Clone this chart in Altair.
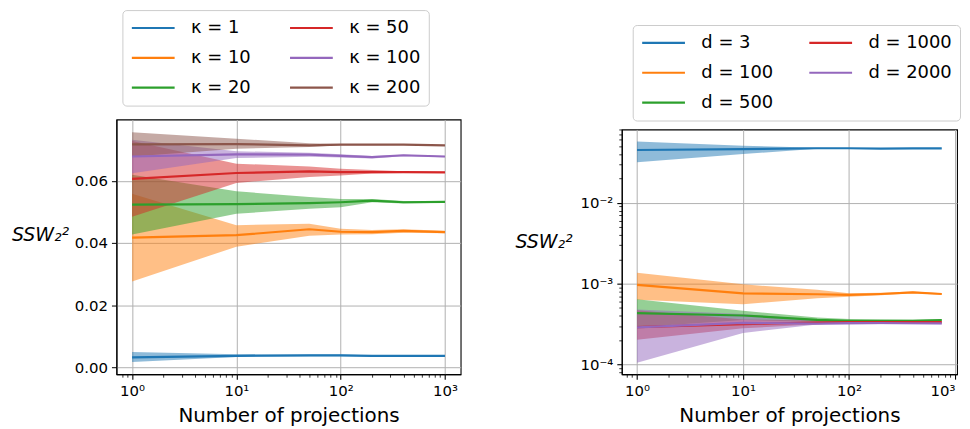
import altair as alt
import pandas as pd

# ---------------- data ----------------
x_left = [1, 10, 50, 100, 200, 400, 1000]
kappa_labels = ["κ = 1", "κ = 10", "κ = 20", "κ = 50", "κ = 100", "κ = 200"]
k1_mean = [0.0032, 0.0037, 0.00385, 0.00385, 0.0037, 0.0037, 0.0037]
k1_lo = [0.0017, 0.0033, 0.0036, 0.0036, 0.0035, 0.0035, 0.0035]
k1_hi = [0.0049, 0.0042, 0.0041, 0.0041, 0.0039, 0.0039, 0.0039]
k10_mean = [0.0417, 0.0425, 0.0444, 0.0436, 0.0435, 0.0439, 0.0435]
k10_lo = [0.0276, 0.0388, 0.0423, 0.0427, 0.0428, 0.0433, 0.0431]
k10_hi = [0.0558, 0.0457, 0.0462, 0.0446, 0.0442, 0.0444, 0.0439]
k20_mean = [0.0523, 0.0525, 0.0528, 0.0531, 0.0536, 0.0531, 0.0532]
k20_lo = [0.0427, 0.0494, 0.0510, 0.0515, 0.0531, 0.0527, 0.0529]
k20_hi = [0.0619, 0.0566, 0.0548, 0.0541, 0.0541, 0.0535, 0.0535]
k50_mean = [0.0606, 0.0625, 0.0630, 0.0628, 0.0628, 0.0628, 0.0627]
k50_lo = [0.0484, 0.0593, 0.0612, 0.0617, 0.0623, 0.0625, 0.0625]
k50_hi = [0.0728, 0.0655, 0.0646, 0.0639, 0.0635, 0.0631, 0.0629]
k100_mean = [0.0678, 0.0685, 0.0684, 0.0680, 0.0676, 0.0682, 0.0678]
k100_lo = [0.0624, 0.0673, 0.0677, 0.0675, 0.0672, 0.0679, 0.0676]
k100_hi = [0.0732, 0.0695, 0.0690, 0.0685, 0.0680, 0.0684, 0.0680]
k200_mean = [0.0717, 0.0718, 0.0714, 0.0716, 0.0716, 0.0716, 0.0714]
k200_lo = [0.0678, 0.0703, 0.0709, 0.0714, 0.0714, 0.0715, 0.0713]
k200_hi = [0.0756, 0.0735, 0.0721, 0.0718, 0.0717, 0.0716, 0.0715]

x_right = [1, 10, 50, 100, 200, 400, 750]
d_labels = ["d = 3", "d = 100", "d = 500", "d = 1000", "d = 2000"]
d3_mean = [0.0449, 0.0461, 0.0472, 0.0472, 0.0466, 0.0470, 0.0470]
d3_lo = [0.0316, 0.0400, 0.0466, 0.0469, 0.0463, 0.0468, 0.0468]
d3_hi = [0.0573, 0.0507, 0.0478, 0.0475, 0.0469, 0.0472, 0.0472]
d100_mean = [0.000964, 0.00076, 0.000739, 0.000726, 0.000745, 0.00078, 0.000745]
d100_lo = [0.00063, 0.000557, 0.00066, 0.00069, 0.00072, 0.00076, 0.00073]
d100_hi = [0.00136, 0.00098, 0.00084, 0.00076, 0.00077, 0.00080, 0.00076]
d500_mean = [0.000431, 0.000404, 0.000357, 0.000348, 0.000348, 0.000348, 0.000354]
d500_lo = [0.00029, 0.000355, 0.000335, 0.000332, 0.000336, 0.000338, 0.000346]
d500_hi = [0.000641, 0.000461, 0.000382, 0.000365, 0.00036, 0.000358, 0.000362]
d1000_mean = [0.00029, 0.000316, 0.000331, 0.000334, 0.000334, 0.000334, 0.000334]
d1000_lo = [0.000203, 0.00028, 0.000315, 0.000325, 0.000328, 0.000328, 0.000329]
d1000_hi = [0.00047, 0.00036, 0.00035, 0.000343, 0.00034, 0.00034, 0.00034]
d2000_mean = [0.000288, 0.000328, 0.00032, 0.000325, 0.000326, 0.000324, 0.000322]
d2000_lo = [0.000105, 0.000245, 0.000313, 0.000312, 0.000315, 0.000315, 0.000315]
d2000_hi = [0.00048, 0.00042, 0.00036, 0.00034, 0.000335, 0.000332, 0.00033]

x_major = [1, 10, 100, 1000]
x_minor = [0.8, 0.9] + [m * 10 ** e for e in range(0, 3) for m in range(2, 10)]
y_right_major = [1e-4, 1e-3, 1e-2]
y_right_minor = [8e-5, 9e-5] + [m * 10 ** e for e in (-4, -3, -2) for m in range(2, 10)]
y_left_ticks = [0.0, 0.02, 0.04, 0.06]

tab_blue, tab_orange, tab_green = "#1f77b4", "#ff7f0e", "#2ca02c"
tab_red, tab_purple, tab_brown = "#d62728", "#9467bd", "#8c564b"


def build(xs, labels, means, los, his):
    rows = []
    for lab, m, lo, hi in zip(labels, means, los, his):
        for x, a, b, c in zip(xs, m, lo, hi):
            rows.append({"x": x, "series": lab, "mean": a, "lo": b, "hi": c})
    return pd.DataFrame(rows)


df_left = build(
    x_left, kappa_labels,
    [k1_mean, k10_mean, k20_mean, k50_mean, k100_mean, k200_mean],
    [k1_lo, k10_lo, k20_lo, k50_lo, k100_lo, k200_lo],
    [k1_hi, k10_hi, k20_hi, k50_hi, k100_hi, k200_hi],
)
df_right = build(
    x_right, d_labels,
    [d3_mean, d100_mean, d500_mean, d1000_mean, d2000_mean],
    [d3_lo, d100_lo, d500_lo, d1000_lo, d2000_lo],
    [d3_hi, d100_hi, d500_hi, d1000_hi, d2000_hi],
)

FONT = "DejaVu Sans"
pow_test = "abs(log(datum.value)/LN10 - round(log(datum.value)/LN10)) < 0.001"
sup = {"-4": "⁻⁴", "-3": "⁻³", "-2": "⁻²", "0": "⁰", "1": "¹", "2": "²", "3": "³"}
sup_expr = "''"
for k, v in sup.items():
    sup_expr = f"(round(log(datum.value)/LN10) == {k} ? '10{v}' : {sup_expr})"
log_label_expr = f"({pow_test}) ? {sup_expr} : ''"


def log_axis(values, title, flush=False, **kw):
    return alt.Axis(
        values=values,
        labelExpr=log_label_expr,
        labelOverlap=False,
        labelFlush=flush,
        tickSize={"condition": {"test": pow_test, "value": 5}, "value": 3},
        tickWidth={"condition": {"test": pow_test, "value": 1.1}, "value": 0.8},
        gridOpacity={"condition": {"test": pow_test, "value": 1}, "value": 0},
        title=title,
        **kw,
    )


xaxis_kw = dict(titleFontSize=20, titlePadding=8, labelPadding=4)
yaxis_title = dict(
    titleAngle=0, titleAlign="right", titleBaseline="middle",
    titleFontStyle="italic", titleFontSize=19,
)


def panel(df, order, colors, xdomain, xflush, yscale, yaxis, w, h, lx, ly, colpad):
    x = alt.X("x:Q", scale=alt.Scale(type="log", domain=xdomain, nice=False),
              axis=log_axis(sorted(x_major + x_minor), "Number of projections",
                            flush=xflush, **xaxis_kw))
    base = alt.Chart(df)
    band = base.mark_area(opacity=0.5).encode(
        x=x,
        y=alt.Y("lo:Q", scale=yscale, axis=yaxis),
        y2="hi:Q",
        color=alt.Color("series:N", scale=alt.Scale(domain=order, range=colors), legend=None),
    )
    line = base.mark_line(strokeWidth=2.2).encode(
        x=x,
        y=alt.Y("mean:Q", scale=yscale, axis=yaxis),
        color=alt.Color(
            "series:N",
            scale=alt.Scale(domain=order, range=colors),
            legend=alt.Legend(
                title=None, orient="none", legendX=lx, legendY=ly, columns=2,
                symbolType="stroke", symbolSize=1849, symbolStrokeWidth=2.2,
                labelFontSize=18, labelFont=FONT, labelOffset=15, labelColor="black",
                columnPadding=colpad, rowPadding=10, clipHeight=20, padding=8,
                strokeColor="#cccccc", fillColor="white", cornerRadius=4,
            ),
        ),
    )
    return (
        alt.layer(band, line)
        .resolve_legend(color="independent")
        .properties(width=w, height=h)
    )


def spacer():
    return (
        alt.Chart(pd.DataFrame({"a": [0]}))
        .mark_point(opacity=0, size=0, strokeWidth=0)
        .encode(x=alt.value(0), y=alt.value(0))
        .properties(width=1, height=1, view=alt.ViewBackground(stroke="transparent"))
    )


left_colors = [tab_blue, tab_orange, tab_green, tab_red, tab_purple, tab_brown]
left_yaxis = alt.Axis(values=y_left_ticks, format=".2f", title="SSW₂²", tickSize=5,
                      labelPadding=4, titleX=-48, titleY=116, **yaxis_title)
left = panel(df_left, kappa_labels, left_colors, [0.708, 1413], False,
             alt.Scale(domain=[-0.0022, 0.0797], nice=False, zero=False),
             left_yaxis, 346, 256, 6, -110, 37)

right_colors = [tab_blue, tab_orange, tab_green, tab_red, tab_purple]
right_yaxis = log_axis(sorted(y_right_major + y_right_minor), "SSW₂²",
                       labelPadding=4, titleX=-50, titleY=113, **yaxis_title)
right = panel(df_right, d_labels, right_colors, [0.718, 1045], 6,
              alt.Scale(type="log", domain=[7.6e-5, 0.0805], nice=False),
              right_yaxis, 337, 246, 11, -105, 34)

left_col = alt.vconcat(spacer(), left, spacing=0)
right_col = alt.vconcat(spacer(), right, spacing=15)

chart = (
    alt.hconcat(left_col, right_col, spacing=52)
    .resolve_scale(color="independent", x="independent", y="independent")
    .resolve_legend(color="independent")
    .properties(padding={"left": 2, "top": -4, "right": 0, "bottom": 0})
    .configure_view(stroke="black", strokeWidth=1.1)
    .configure_axis(
        labelFont=FONT, titleFont=FONT, labelFontSize=15, labelColor="black",
        titleColor="black", titleFontWeight="normal",
        domainColor="black", domainWidth=1.1, tickColor="black",
        gridColor="#b0b0b0", gridWidth=1,
    )
)

chart.save("out.html", embed_options={"renderer": "svg", "actions": False})
